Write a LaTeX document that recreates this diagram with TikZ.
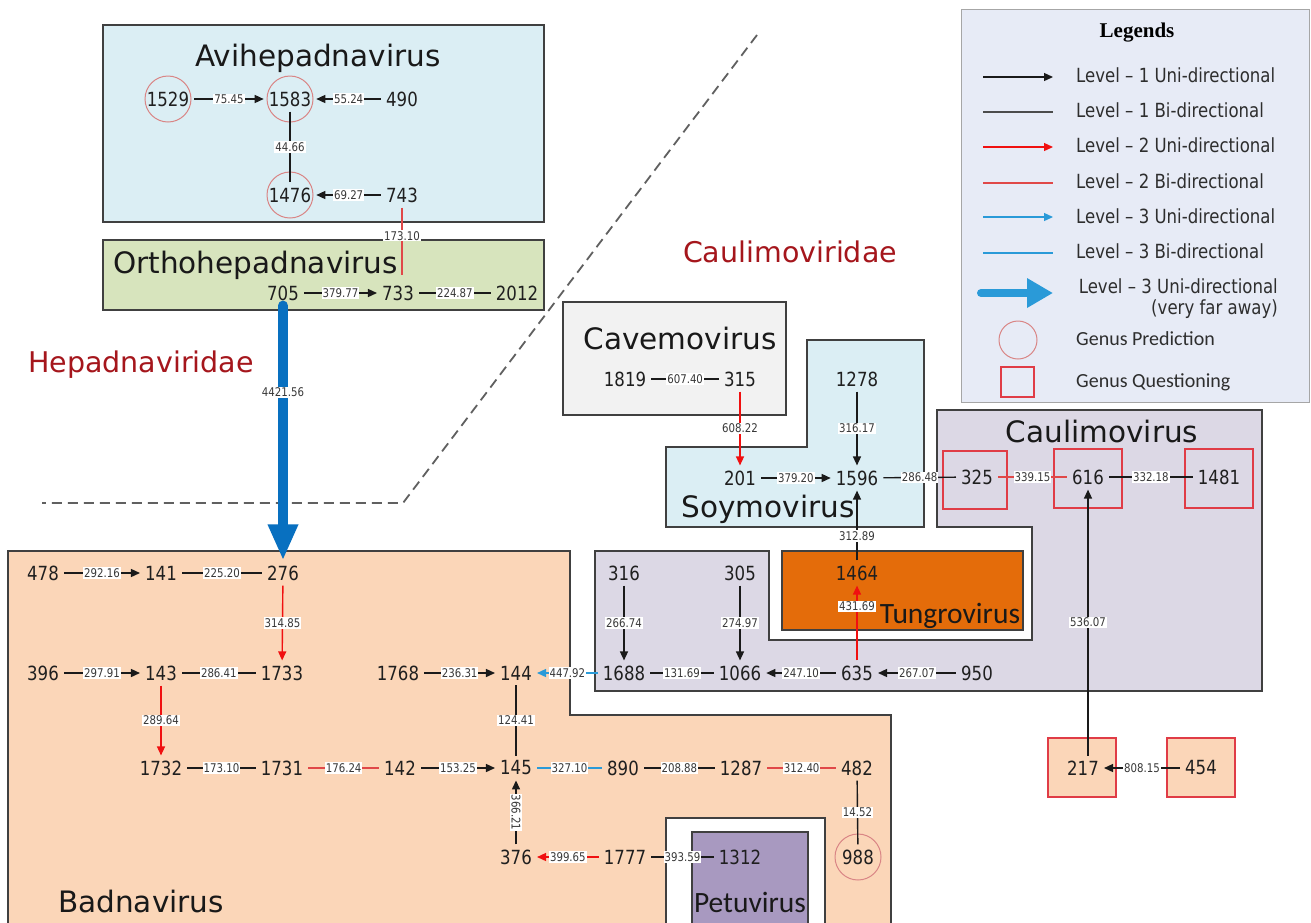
\documentclass[tikz,border=0pt]{standalone}
\usepackage{fontspec}
\setmainfont{DejaVu Sans}
\newfontfamily\numf[FakeStretch=0.85]{DejaVu Sans}
\newfontfamily\calf{Carlito}
\newfontfamily\legf{Liberation Serif}
\usetikzlibrary{arrows.meta}
\definecolor{blubg}{HTML}{DBEEF4}
\definecolor{grnbg}{HTML}{D7E4BD}
\definecolor{grybg}{HTML}{F2F2F2}
\definecolor{purbg}{HTML}{DCD8E5}
\definecolor{orabg}{HTML}{E46C0A}
\definecolor{pchbg}{HTML}{FBD6B8}
\definecolor{petbg}{HTML}{A899C0}
\definecolor{legbg}{HTML}{E7EBF6}
\definecolor{bordc}{HTML}{404040}
\definecolor{famred}{HTML}{A5161C}
\definecolor{lvone}{HTML}{1A1A1A}
\definecolor{lvtwo}{HTML}{F01010}
\definecolor{lvtwob}{HTML}{E04848}
\definecolor{lvthree}{HTML}{2A9AD8}
\definecolor{bigblue}{HTML}{0870C0}
\definecolor{gpred}{HTML}{D98585}
\definecolor{gqred}{HTML}{E03C46}
\definecolor{dashc}{HTML}{606060}
\begin{document}
\begin{tikzpicture}[x=1pt,y=-1pt,
  region/.style={draw=bordc, line width=1.3pt},
  num/.style={font=\numf\fontsize{19.5}{20}\selectfont, inner sep=5pt, text=black!88},
  lab/.style={font=\numf\fontsize{12}{12}\selectfont, fill=white, inner sep=1pt, text=black!78},
  ttl/.style={font=\fontsize{29.5}{30}\selectfont, inner sep=0pt, text=black!90},
  ttlc/.style={font=\calf\fontsize{29.5}{30}\selectfont, inner sep=0pt, text=black!90},
  fam/.style={font=\fontsize{28.5}{29}\selectfont, inner sep=0pt, text=famred},
  legtxt/.style={font=\numf\fontsize{19.5}{21}\selectfont, inner sep=0pt, text=black!82},
  gentxt/.style={font=\calf\fontsize{20}{21}\selectfont, inner sep=0pt, text=black!82},
  tip/.style={-{Triangle[length=9pt,width=8pt]}},
  lone/.style={draw=lvone, line width=1.4pt},
  lonea/.style={lone, tip},
  ltwo/.style={draw=lvtwob, line width=1.4pt},
  ltwoa/.style={draw=lvtwo, line width=1.4pt, tip},
  lthree/.style={draw=lvthree, line width=1.4pt},
  lthreea/.style={lthree, tip},
  gpcirc/.style={draw=gpred, line width=1pt},
  gqsq/.style={draw=gqred, line width=1.4pt}
]
\clip (0,0) rectangle (1311,922);
\fill[white] (0,0) rectangle (1311,922);

% ---------- regions ----------
\draw[region, fill=blubg] (103,25) rectangle (544,222);
\draw[region, fill=grnbg] (103,240) rectangle (544,310);
\draw[region, fill=grybg] (563,302) rectangle (786,415);
\draw[region, fill=blubg] (666,447) -- (807,447) -- (807,340) -- (924,340) -- (924,527) -- (666,527) -- cycle;
\draw[region, fill=purbg] (937,410) -- (1262,410) -- (1262,691) -- (595,691) -- (595,551) -- (769,551) -- (769,640) -- (1032,640) -- (1032,527) -- (937,527) -- cycle;
\draw[region, fill=orabg] (782,551) rectangle (1023,630);
\draw[region, fill=pchbg] (8,551) -- (570,551) -- (570,715) -- (891,715) -- (891,940) -- (8,940) -- cycle;
\draw[region, fill=white] (666,818) rectangle (825,940);
\draw[region, fill=petbg] (692,832) rectangle (808,940);
\draw[draw=black!35, line width=1pt, fill=legbg] (961,9) rectangle (1309,402);

% dashed divider
\coordinate (dA) at (757,35);
\coordinate (dB) at (403,503);
\coordinate (dC) at (42,503);
\draw[dashc, line width=1.8pt, dash pattern=on 10pt off 6pt] (dA) -- (dB) -- (dC);

% ---------- titles ----------
\node[ttl, anchor=base] (tAvi) at (318,66) {Avihepadnavirus};
\node[ttl, anchor=base west] (tOrtho) at (113,273) {Orthohepadnavirus};
\node[ttl, anchor=base] (tCave) at (680,349) {Cavemovirus};
\node[ttl, anchor=base] (tSoy) at (768,517) {Soymovirus};
\node[ttl, anchor=base] (tCaul) at (1102,442) {Caulimovirus};
\node[ttlc, anchor=base] (tTung) at (950,623) {Tungrovirus};
\node[ttlc, anchor=base] (tPetu) at (750,912) {Petuvirus};
\node[ttl, anchor=base west] (tBad) at (58,912) {Badnavirus};
\node[fam, anchor=base] (tHep) at (141,372) {Hepadnaviridae};
\node[fam, anchor=base] (tCaulf) at (790,262) {Caulimoviridae};

% ---------- genus marks ----------
\draw[gpcirc] (168,99) circle[radius=23];
\draw[gpcirc] (290,99) circle[radius=23];
\draw[gpcirc] (290,195) circle[radius=23];
\draw[gpcirc] (858,857) circle[radius=23];
\draw[gqsq] (943,451) rectangle (1007,509);
\draw[gqsq] (1054,449) rectangle (1122,508);
\draw[gqsq] (1185,449) rectangle (1253,508);
\draw[gqsq, fill=pchbg] (1048,738) rectangle (1116,797);
\draw[gqsq, fill=pchbg] (1167,738) rectangle (1235,797);

% ---------- nodes ----------
\node[num] (n1529) at (168,99) {1529};
\node[num] (n1583) at (290,99) {1583};
\node[num] (n490) at (402,99) {490};
\node[num] (n1476) at (290,195) {1476};
\node[num] (n743) at (402,195) {743};
\coordinate (oend) at (402,275);
\node[num] (n705) at (283,293) {705};
\node[num] (n733) at (398,293) {733};
\node[num] (n2012) at (517,293) {2012};

\node[num] (n1819) at (625,379) {1819};
\node[num] (n315) at (740,379) {315};
\node[num] (n1278) at (857,379) {1278};
\node[num] (n201) at (740,478) {201};
\node[num] (n1596) at (857,478) {1596};
\node[num] (n325) at (977,477) {325};
\node[num] (n616) at (1088,477) {616};
\node[num] (n1481) at (1219,477) {1481};
\node[num] (n217) at (1083,768) {217};
\node[num] (n454) at (1201,768) {454};

\node[num] (n1464) at (857,573) {1464};
\node[num] (n316) at (624,573) {316};
\node[num] (n305) at (740,573) {305};
\node[num] (n1688) at (624,673) {1688};
\node[num] (n1066) at (740,673) {1066};
\node[num] (n635) at (857,673) {635};
\node[num] (n950) at (977,673) {950};

\node[num] (n478) at (43,573) {478};
\node[num] (n141) at (161,573) {141};
\node[num] (n276) at (283,573) {276};
\node[num] (n396) at (43,673) {396};
\node[num] (n143) at (161,673) {143};
\node[num] (n1733) at (282,673) {1733};
\node[num] (n1768) at (398,673) {1768};
\node[num] (n144) at (516,673) {144};
\node[num] (n1732) at (161,768) {1732};
\node[num] (n1731) at (282,768) {1731};
\node[num] (n142) at (400,768) {142};
\node[num] (n145) at (516,768) {145};
\node[num] (n890) at (623,768) {890};
\node[num] (n1287) at (741,768) {1287};
\node[num] (n482) at (857,768) {482};
\node[num] (n376) at (516,857) {376};
\node[num] (n1777) at (625,857) {1777};
\node[num] (n1312) at (740,857) {1312};
\node[num] (n988) at (858,857) {988};

% ---------- edges ----------
\draw[lonea] (n1529) -- node[lab]{75.45} (n1583);
\draw[lonea] (n490) -- node[lab]{55.24} (n1583);
\draw[lone] (n1583) -- node[lab]{44.66} (n1476);
\draw[lonea] (n743) -- node[lab]{69.27} (n1476);
\draw[ltwo] (n743) -- node[lab,pos=0.42]{173.10} (oend);
\draw[lonea] (n705) -- node[lab]{379.77} (n733);
\draw[lone] (n733) -- node[lab]{224.87} (n2012);
\draw[draw=bigblue, line width=10pt, line cap=round, -{Triangle[length=36pt,width=28pt]}] (n705) -- node[lab,pos=0.34]{4421.56} (n276);

\draw[lone] (n1819) -- node[lab]{607.40} (n315);
\draw[ltwoa] (n315) -- node[lab]{608.22} (n201);
\draw[lonea] (n201) -- node[lab]{379.20} (n1596);
\draw[lonea] (n1278) -- node[lab]{316.17} (n1596);
\draw[lone] (n1596) -- node[lab]{286.48} (n325);
\draw[ltwo] (n325) -- node[lab]{339.15} (n616);
\draw[lone] (n616) -- node[lab]{332.18} (n1481);
\draw[lonea] (n217.north -| n616) -- node[lab]{536.07} (n616);
\draw[lonea] (n454) -- node[lab]{808.15} (n217);
\draw[lonea] (n1464) -- node[lab,pos=0.35]{312.89} (n1596);
\draw[ltwoa] (n635) -- node[lab,pos=0.72]{431.69} (n1464);
\draw[lonea] (n316) -- node[lab]{266.74} (n1688);
\draw[lonea] (n305) -- node[lab]{274.97} (n1066);
\draw[lone] (n1688) -- node[lab]{131.69} (n1066);
\draw[lonea] (n635) -- node[lab]{247.10} (n1066);
\draw[lonea] (n950) -- node[lab]{267.07} (n635);
\draw[lthreea] (n1688) -- node[lab]{447.92} (n144);

\draw[lonea] (n478) -- node[lab]{292.16} (n141);
\draw[lone] (n141) -- node[lab]{225.20} (n276);
\draw[ltwoa] (n276) -- node[lab]{314.85} (n1733);
\draw[lonea] (n396) -- node[lab]{297.91} (n143);
\draw[lone] (n143) -- node[lab]{286.41} (n1733);
\draw[ltwoa] (n143) -- node[lab]{289.64} (n1732);
\draw[lone] (n1732) -- node[lab]{173.10} (n1731);
\draw[ltwo] (n1731) -- node[lab]{176.24} (n142);
\draw[lonea] (n142) -- node[lab]{153.25} (n145);
\draw[lonea] (n1768) -- node[lab]{236.31} (n144);
\draw[lone] (n144) -- node[lab]{124.41} (n145);
\draw[lthree] (n145) -- node[lab]{327.10} (n890);
\draw[lone] (n890) -- node[lab]{208.88} (n1287);
\draw[ltwo] (n1287) -- node[lab]{312.40} (n482);
\draw[lone] (n482) -- node[lab]{14.52} (n988);
\draw[lonea] (n376) -- node[lab,rotate=-90]{366.21} (n145);
\draw[ltwoa] (n1777) -- node[lab]{399.65} (n376);
\draw[lone] (n1777) -- node[lab]{393.59} (n1312);

% ---------- legend ----------
\node[font=\legf\bfseries\fontsize{21}{21}\selectfont, anchor=base, inner sep=0pt] (legT) at (1137,37) {Legends};
\coordinate (a1) at (983,77);  \coordinate (b1) at (1053,77);
\coordinate (a2) at (983,112); \coordinate (b2) at (1053,112);
\coordinate (a3) at (983,147); \coordinate (b3) at (1053,147);
\coordinate (a4) at (983,183); \coordinate (b4) at (1053,183);
\coordinate (a5) at (983,217); \coordinate (b5) at (1053,217);
\coordinate (a6) at (983,253); \coordinate (b6) at (1053,253);
\coordinate (a7) at (981,293); \coordinate (b7) at (1053,293);
\draw[lone, line width=1.3pt, tip] (a1) -- (b1);
\draw[lone, draw=black!70, line width=1.3pt] (a2) -- (b2);
\draw[ltwoa, line width=1.3pt] (a3) -- (b3);
\draw[ltwo, line width=1.3pt] (a4) -- (b4);
\draw[lthreea, line width=1.3pt] (a5) -- (b5);
\draw[lthree, line width=1.3pt] (a6) -- (b6);
\draw[draw=lvthree, line width=8pt, line cap=round, -{Triangle[length=26pt,width=28pt]}] (a7) -- (b7);
\draw[gpcirc] (1018,340) circle[radius=19];
\draw[gqsq] (1001,367) rectangle (1034,397);
\node[legtxt, anchor=base west] (l1) at (1076,82) {Level – 1 Uni-directional};
\node[legtxt, anchor=base west] (l2) at (1076,117) {Level – 1 Bi-directional};
\node[legtxt, anchor=base west] (l3) at (1076,152) {Level – 2 Uni-directional};
\node[legtxt, anchor=base west] (l4) at (1076,188) {Level – 2 Bi-directional};
\node[legtxt, anchor=base west] (l5) at (1076,223) {Level – 3 Uni-directional};
\node[legtxt, anchor=base west] (l6) at (1076,258) {Level – 3 Bi-directional};
\node[legtxt, align=right, anchor=north east] (l7) at (1278,278) {Level – 3 Uni-directional\\(very far away)};
\node[gentxt, anchor=base west] (l8) at (1076,345) {Genus Prediction};
\node[gentxt, anchor=base west] (l9) at (1076,387) {Genus Questioning};
\end{tikzpicture}
\end{document}
